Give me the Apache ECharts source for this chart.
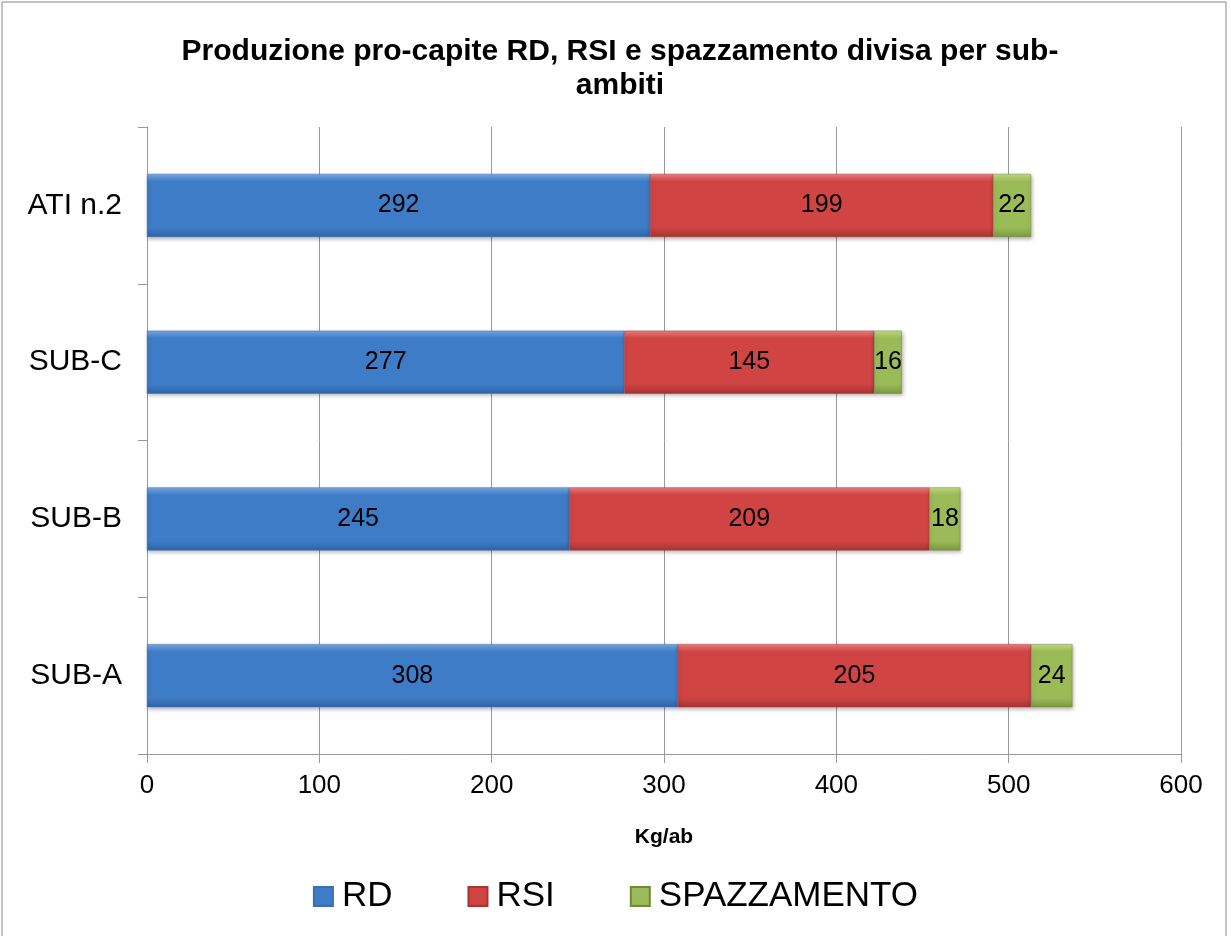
<!DOCTYPE html>
<html><head><meta charset="utf-8">
<script src="https://cdn.jsdelivr.net/npm/echarts@6/dist/echarts.min.js"></script>
<style>html,body{margin:0;padding:0;background:#fff}#c{width:1231px;height:936px}</style>
</head><body><div id="c"></div>
<script>
const categories = ['SUB-A', 'SUB-B', 'SUB-C', 'ATI n.2'];
const rd = [308, 245, 277, 292];
const rsi = [205, 209, 145, 199];
const spazz = [24, 18, 16, 22];
const xTicks = [0, 100, 200, 300, 400, 500, 600];

function grad(top, mid, bot) {
  return new echarts.graphic.LinearGradient(0, 0, 0, 1, [
    {offset: 0, color: top}, {offset: 0.12, color: mid}, {offset: 0.85, color: mid}, {offset: 1, color: bot}
  ]);
}
const font = 'Liberation Sans, Arial, sans-serif';
const chart = echarts.init(document.getElementById('c'), null, {renderer: 'canvas'});
const lbl = {show: true, position: 'inside', color: '#000', fontSize: 25, fontFamily: font};
const itemBase = {shadowColor: 'rgba(0,0,0,0.3)', shadowBlur: 4, shadowOffsetX: 1, shadowOffsetY: 2};
chart.setOption({
  animation: false,
  title: {
    text: 'Produzione pro-capite RD, RSI e spazzamento divisa per sub-\nambiti',
    left: 615, textAlign: 'center', top: 30,
    textStyle: {fontFamily: font, fontSize: 30, fontWeight: 'bold', color: '#000', lineHeight: 34}
  },
  legend: {
    top: 874, left: 'center', itemWidth: 19, itemHeight: 19, itemGap: 75,
    icon: 'rect',
    textStyle: {fontFamily: font, fontSize: 35, color: '#000', padding: [0, 0, 0, 4]},
    data: ['RD', 'RSI', 'SPAZZAMENTO']
  },
  grid: {left: 147, right: 50, top: 127, bottom: 182},
  xAxis: {
    type: 'value', min: 0, max: 600, interval: 100,
    name: 'Kg/ab', nameLocation: 'middle', nameGap: 73,
    nameTextStyle: {fontFamily: font, fontSize: 21, fontWeight: 'bold', color: '#000'},
    axisLine: {show: true, lineStyle: {color: '#999'}},
    axisTick: {show: true, length: 9, lineStyle: {color: '#999'}},
    axisLabel: {fontFamily: font, fontSize: 26, color: '#000', margin: 19,
      formatter: v => xTicks.includes(v) ? String(v) : ''},
    splitLine: {show: true, lineStyle: {color: '#999', width: 1}}
  },
  yAxis: {
    type: 'category', data: categories,
    axisLine: {show: true, lineStyle: {color: '#999'}},
    axisTick: {show: true, length: 9, lineStyle: {color: '#999'}},
    axisLabel: {fontFamily: font, fontSize: 30, color: '#000', margin: 25}
  },
  series: [
    {name: 'RD', type: 'bar', stack: 't', data: rd, barWidth: 63, label: lbl,
      itemStyle: Object.assign({color: grad('#78aae6', '#3f7cc8', '#2f64a8'), borderColor: '#3a6fb0', borderWidth: 0.5}, itemBase)},
    {name: 'RSI', type: 'bar', stack: 't', data: rsi, label: lbl,
      itemStyle: Object.assign({color: grad('#f08080', '#d04444', '#a83434'), borderColor: '#a83434', borderWidth: 0.5}, itemBase)},
    {name: 'SPAZZAMENTO', type: 'bar', stack: 't', data: spazz, label: lbl,
      itemStyle: Object.assign({color: grad('#c4de80', '#9bbb59', '#7c9a40'), borderColor: '#6f8a3a', borderWidth: 0.5}, itemBase)}
  ],
  graphic: [{type: 'rect', shape: {x: 2, y: 2, width: 1224, height: 940}, style: {fill: 'none', stroke: '#888', lineWidth: 1}, silent: true}]
});
</script></body></html>
